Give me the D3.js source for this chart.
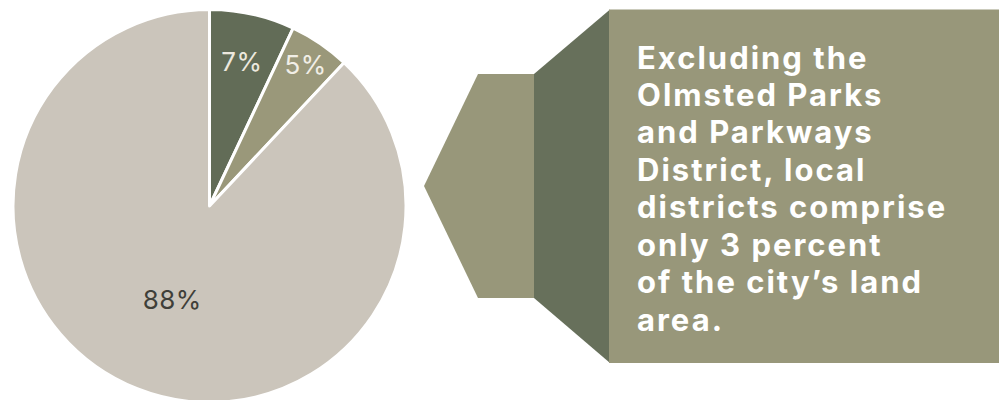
<!DOCTYPE html>
<html>
<head>
<meta charset="utf-8">
<script src="https://cdn.jsdelivr.net/npm/d3@7/dist/d3.min.js"></script>
<style>
  html, body { margin: 0; padding: 0; background: #ffffff; }
  svg { display: block; }
</style>
</head>
<body>
<svg id="chart" width="999" height="400"></svg>
<script>
// Share of the city's land area
const categories = ["Olmsted Parks and Parkways District", "Local districts", "Rest of the city"];
const shares = [7, 5, 88];
const shareLabels = ["7%", "5%", "88%"];

// Callout text, one entry per line
const calloutLines = [
  "Excluding the",
  "Olmsted Parks",
  "and Parkways",
  "District, local",
  "districts comprise",
  "only 3 percent",
  "of the city\u2019s land",
  "area."
];

const sliceColors = ["#626c57", "#9a987a", "#cbc5bb"];
const labelColors = ["#ece8de", "#f1eee6", "#3f3f39"];
const labelRadius = [148, 171, 101];

const svg = d3.select("#chart");

// ---- Pie ----
const cx = 209.5, cy = 206, r = 196.5;
const pie = d3.pie().sort(null).value(d => d)(shares);
const arc = d3.arc().innerRadius(0).outerRadius(r);

const gPie = svg.append("g").attr("transform", `translate(${cx},${cy})`);
gPie.selectAll("path.slice")
  .data(pie)
  .join("path")
  .attr("class", "slice")
  .attr("d", arc)
  .attr("fill", (d, i) => sliceColors[i])
  .attr("stroke", "#ffffff")
  .attr("stroke-width", 3)
  .attr("stroke-linejoin", "round");

gPie.selectAll("text.pct")
  .data(pie)
  .join("text")
  .attr("class", "pct")
  .attr("transform", (d, i) => {
    const c = d3.arc().innerRadius(labelRadius[i]).outerRadius(labelRadius[i]).centroid(d);
    return `translate(${c[0]},${c[1]})`;
  })
  .attr("text-anchor", "middle")
  .attr("dy", "0.36em")
  .attr("fill", (d, i) => labelColors[i])
  .style("font-family", "Inter, 'Open Sans', sans-serif")
  .style("font-weight", 400)
  .style("font-size", "26px")
  .style("letter-spacing", "0.4px")
  .text((d, i) => shareLabels[i]);

// ---- Callout arrow ----
const gCall = svg.append("g");
// pointer block
gCall.append("path")
  .attr("d", d3.line()([[424, 186], [478, 74], [535, 74], [535, 298], [478, 298]]) + "Z")
  .attr("fill", "#98977a");
// receding side panel
gCall.append("path")
  .attr("d", d3.line()([[534, 74], [610, 9.5], [610, 363], [534, 298]]) + "Z")
  .attr("fill", "#67705b");
// text panel
gCall.append("rect")
  .attr("x", 609).attr("y", 9.5)
  .attr("width", 390).attr("height", 353.5)
  .attr("fill", "#98977a");

const lineY = d3.scalePoint().domain(d3.range(calloutLines.length)).range([68.5, 330.5]);
const callText = gCall.append("text")
  .attr("fill", "#ffffff")
  .style("font-family", "Inter, 'Open Sans', sans-serif")
  .style("font-weight", 700)
  .style("font-size", "31px")
  .style("letter-spacing", "2px");
callText.selectAll("tspan")
  .data(calloutLines)
  .join("tspan")
  .attr("x", 637)
  .attr("y", (d, i) => lineY(i))
  .text(d => d);
</script>
</body>
</html>
